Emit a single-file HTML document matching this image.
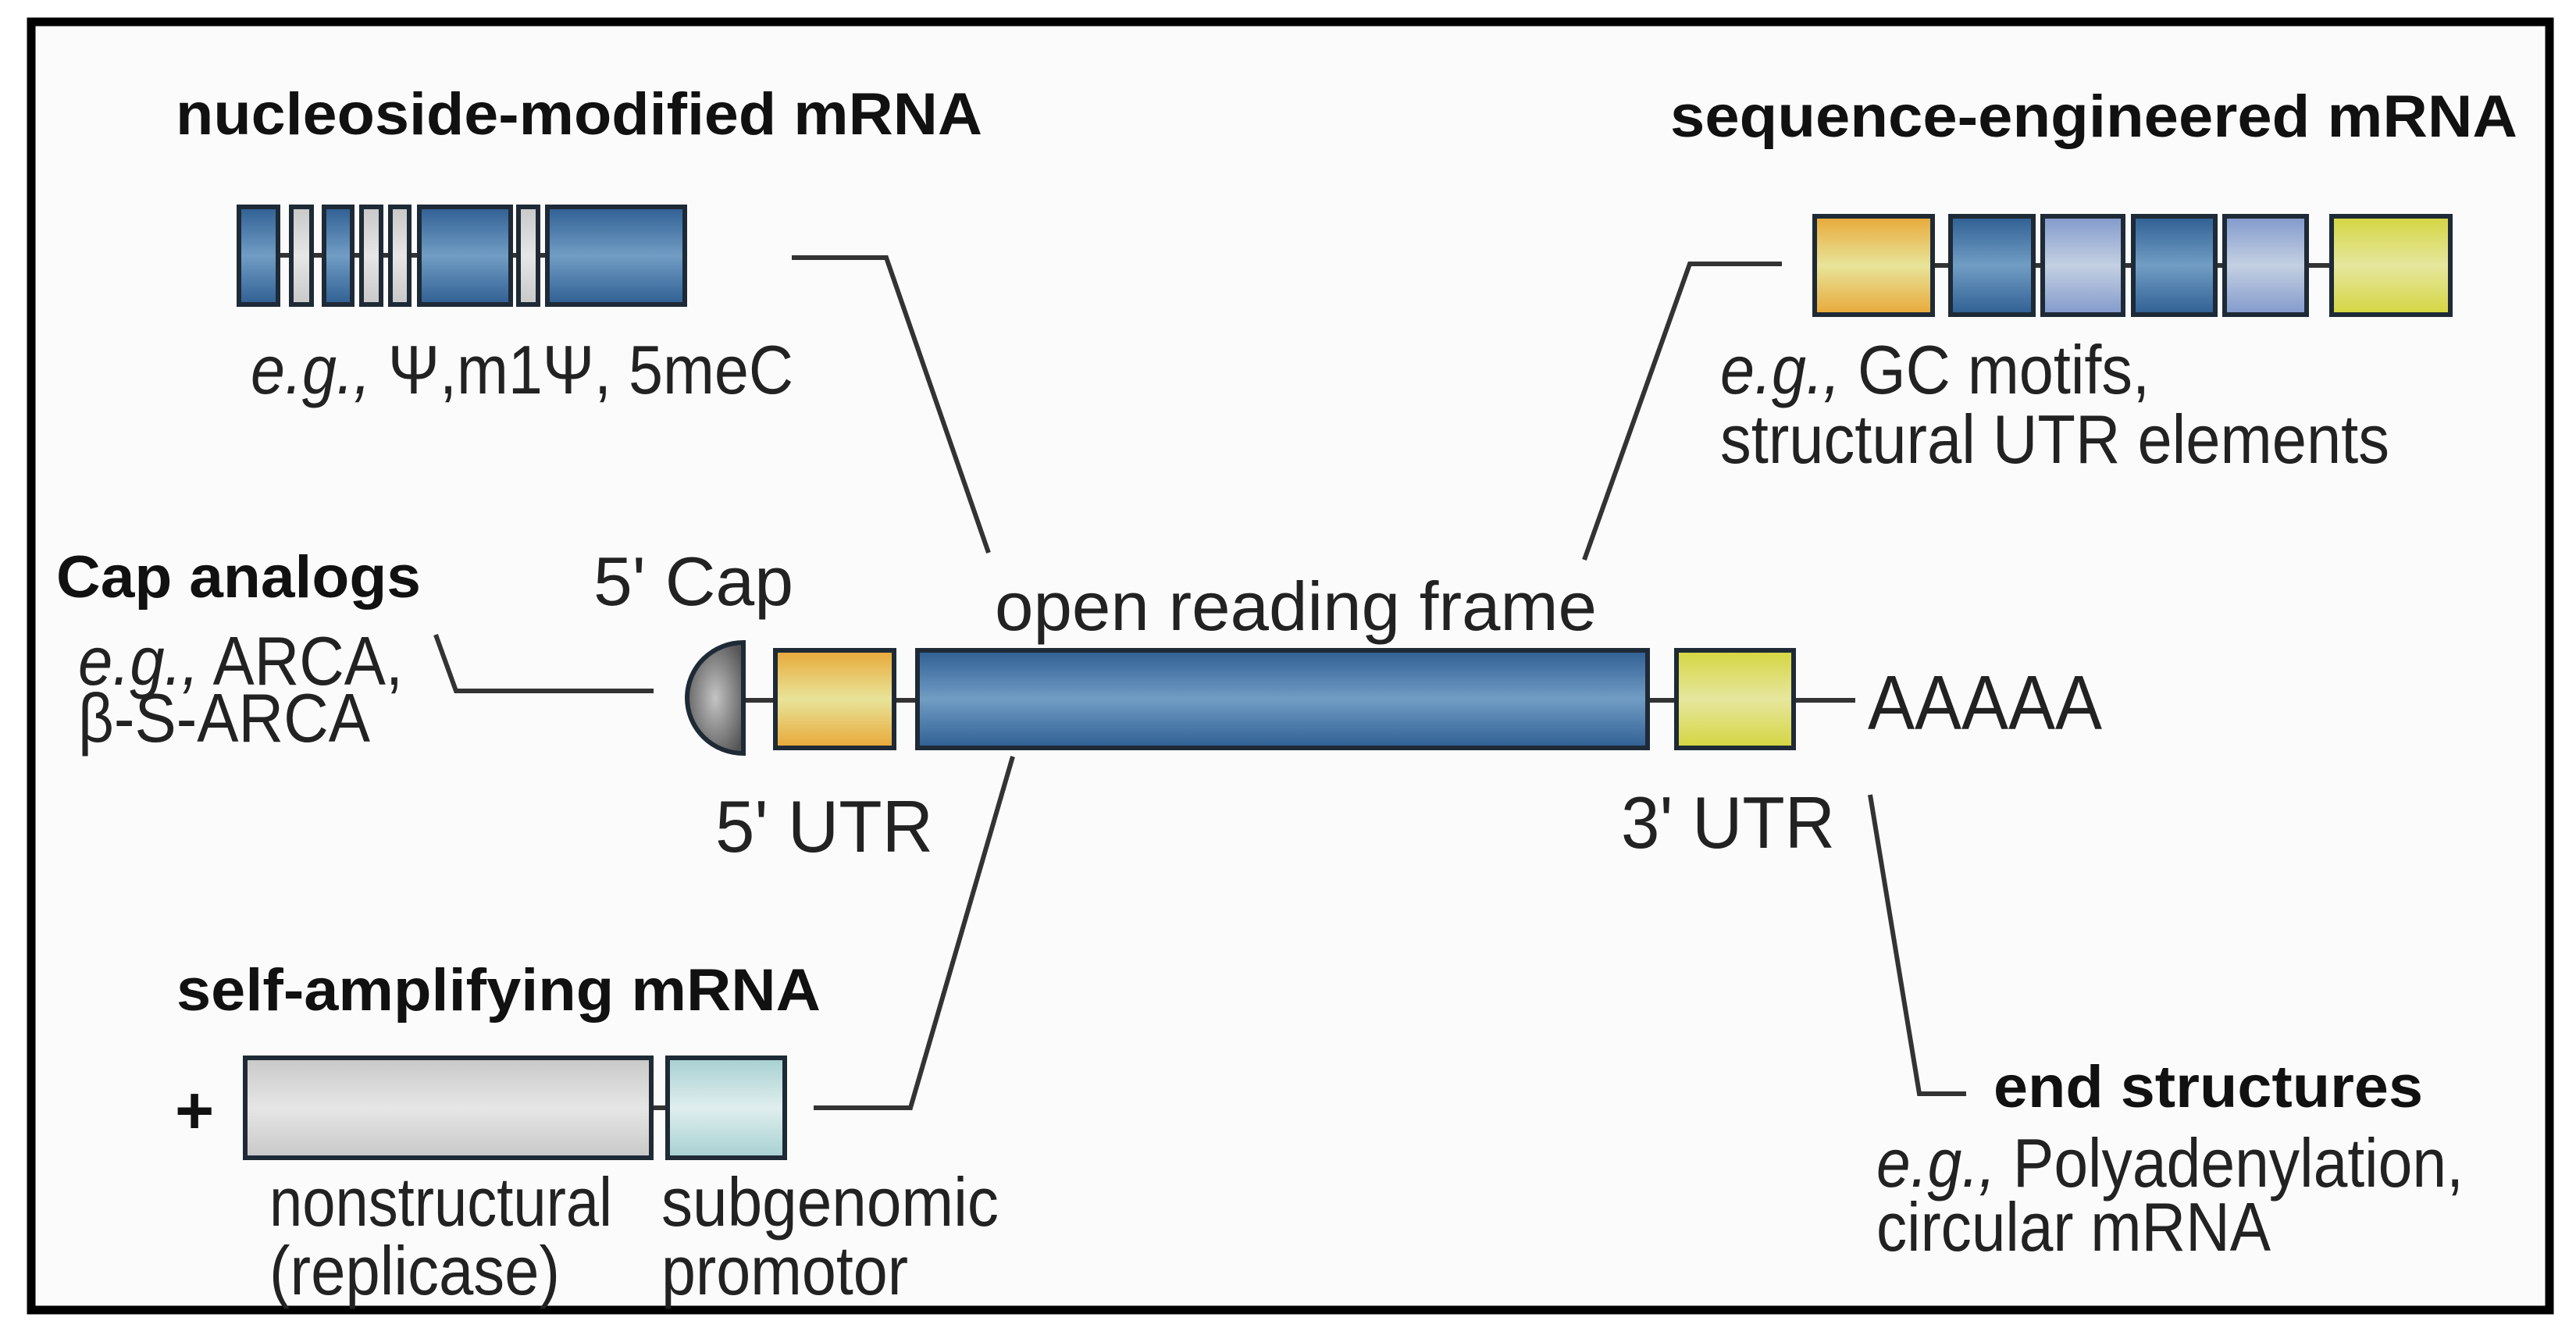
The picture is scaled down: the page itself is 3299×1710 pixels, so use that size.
<!DOCTYPE html>
<html><head><meta charset="utf-8"><style>html,body{margin:0;padding:0;background:#fff}svg{display:block}</style></head>
<body>
<svg width="3299" height="1710" viewBox="0 0 3299 1710" xmlns="http://www.w3.org/2000/svg" font-family="'Liberation Sans Narrow','Liberation Sans',sans-serif">
<defs>
<linearGradient id="gb" x1="0" y1="0" x2="0" y2="1"><stop offset="0" stop-color="#2f5f93"/><stop offset="0.5" stop-color="#719dc4"/><stop offset="1" stop-color="#2f5f93"/></linearGradient>
<linearGradient id="go" x1="0" y1="0" x2="0" y2="1"><stop offset="0" stop-color="#e8a838"/><stop offset="0.5" stop-color="#e8e49a"/><stop offset="1" stop-color="#e8a838"/></linearGradient>
<linearGradient id="gy" x1="0" y1="0" x2="0" y2="1"><stop offset="0" stop-color="#d4d640"/><stop offset="0.5" stop-color="#e6e69e"/><stop offset="1" stop-color="#d4d640"/></linearGradient>
<linearGradient id="gl" x1="0" y1="0" x2="0" y2="1"><stop offset="0" stop-color="#8199cc"/><stop offset="0.5" stop-color="#c4d0e2"/><stop offset="1" stop-color="#8199cc"/></linearGradient>
<linearGradient id="gw" x1="0" y1="0" x2="0" y2="1"><stop offset="0" stop-color="#c8c8c8"/><stop offset="0.5" stop-color="#e6e6e6"/><stop offset="1" stop-color="#c8c8c8"/></linearGradient>
<linearGradient id="gt" x1="0" y1="0" x2="0" y2="1"><stop offset="0" stop-color="#a6d0d2"/><stop offset="0.5" stop-color="#e0eeee"/><stop offset="1" stop-color="#a6d0d2"/></linearGradient>
<radialGradient id="gc" cx="0.5" cy="0.5" r="0.6"><stop offset="0" stop-color="#c4c4c4"/><stop offset="1" stop-color="#555"/></radialGradient>
</defs>
<rect x="0" y="0" width="3299" height="1710" fill="#fff"/>
<rect x="40" y="28" width="3225" height="1650" fill="#fbfbfb" stroke="#000" stroke-width="11"/>

<g stroke="#333" stroke-width="6" fill="none">
<polyline points="1014,330 1135,330 1266,708"/>
<polyline points="2282,338 2164,338 2029,717"/>
<polyline points="558,813 584,885 837,885"/>
<polyline points="1297,969 1166,1419 1042,1419"/>
<polyline points="2395,1018 2458,1401 2518,1401"/>
<line x1="356" y1="327" x2="701" y2="327"/>
<line x1="2475" y1="340" x2="2986" y2="340"/>
<line x1="952" y1="897" x2="2300" y2="897"/>
<line x1="2297" y1="897" x2="2376" y2="897"/>
<line x1="834" y1="1419" x2="855" y2="1419"/>
</g>

<g stroke="#1e2a36" stroke-width="6">
<rect x="306" y="265" width="50" height="125" fill="url(#gb)"/>
<rect x="373" y="265" width="26" height="125" fill="url(#gw)"/>
<rect x="415" y="265" width="36" height="125" fill="url(#gb)"/>
<rect x="463" y="265" width="25" height="125" fill="url(#gw)"/>
<rect x="500" y="265" width="24" height="125" fill="url(#gw)"/>
<rect x="537" y="265" width="117" height="125" fill="url(#gb)"/>
<rect x="664" y="265" width="25" height="125" fill="url(#gw)"/>
<rect x="701" y="265" width="176" height="125" fill="url(#gb)"/>
<rect x="2324" y="277" width="151" height="126" fill="url(#go)"/>
<rect x="2498" y="277" width="106" height="126" fill="url(#gb)"/>
<rect x="2616" y="277" width="103" height="126" fill="url(#gl)"/>
<rect x="2732" y="277" width="105" height="126" fill="url(#gb)"/>
<rect x="2849" y="277" width="105" height="126" fill="url(#gl)"/>
<rect x="2986" y="277" width="152" height="126" fill="url(#gy)"/>
<path d="M952,823 A72,71 0 0 0 952,965 Z" fill="url(#gc)"/>
<rect x="993" y="833" width="152" height="125" fill="url(#go)"/>
<rect x="1175" y="833" width="935" height="125" fill="url(#gb)"/>
<rect x="2147" y="833" width="150" height="125" fill="url(#gy)"/>
<rect x="314" y="1355" width="520" height="128" fill="url(#gw)"/>
<rect x="855" y="1355" width="150" height="128" fill="url(#gt)"/>
</g>

<g fill="#111" font-weight="bold" font-size="76">
<text x="225" y="172" textLength="1033" lengthAdjust="spacingAndGlyphs">nucleoside-modified mRNA</text>
<text x="2139" y="175" textLength="1085" lengthAdjust="spacingAndGlyphs">sequence-engineered mRNA</text>
<text x="72" y="765" textLength="467" lengthAdjust="spacingAndGlyphs">Cap analogs</text>
<text x="226" y="1294" textLength="825" lengthAdjust="spacingAndGlyphs">self-amplifying mRNA</text>
<text x="2553" y="1418" textLength="550" lengthAdjust="spacingAndGlyphs">end structures</text>
<text x="224" y="1452" font-size="86" font-weight="bold">+</text>
</g>

<g fill="#222" font-size="88">
<text x="321" y="504" textLength="695" lengthAdjust="spacingAndGlyphs"><tspan font-style="italic">e.g.,</tspan> Ψ,m1Ψ, 5meC</text>
<text x="2203" y="504" textLength="550" lengthAdjust="spacingAndGlyphs"><tspan font-style="italic">e.g.,</tspan> GC motifs,</text>
<text x="2203" y="593" textLength="857" lengthAdjust="spacingAndGlyphs">structural UTR elements</text>
<text x="760" y="775" textLength="256" lengthAdjust="spacingAndGlyphs">5' Cap</text>
<text x="100" y="877" textLength="416" lengthAdjust="spacingAndGlyphs"><tspan font-style="italic">e.g.,</tspan> ARCA,</text>
<text x="100" y="950" textLength="374" lengthAdjust="spacingAndGlyphs">β-S-ARCA</text>
<text x="1274" y="807" textLength="771" lengthAdjust="spacingAndGlyphs">open reading frame</text>
<text x="2392" y="934" font-size="98" textLength="300" lengthAdjust="spacingAndGlyphs">AAAAA</text>
<text x="916" y="1091" font-size="94" textLength="279" lengthAdjust="spacingAndGlyphs">5' UTR</text>
<text x="2076" y="1086" font-size="94" textLength="274" lengthAdjust="spacingAndGlyphs">3' UTR</text>
<text x="345" y="1570" textLength="439" lengthAdjust="spacingAndGlyphs">nonstructural</text>
<text x="345" y="1658" textLength="372" lengthAdjust="spacingAndGlyphs">(replicase)</text>
<text x="847" y="1570" textLength="432" lengthAdjust="spacingAndGlyphs">subgenomic</text>
<text x="847" y="1658" textLength="316" lengthAdjust="spacingAndGlyphs">promotor</text>
<text x="2403" y="1520" textLength="752" lengthAdjust="spacingAndGlyphs"><tspan font-style="italic">e.g.,</tspan> Polyadenylation,</text>
<text x="2403" y="1602" textLength="505" lengthAdjust="spacingAndGlyphs">circular mRNA</text>
</g>
</svg>
</body></html>
